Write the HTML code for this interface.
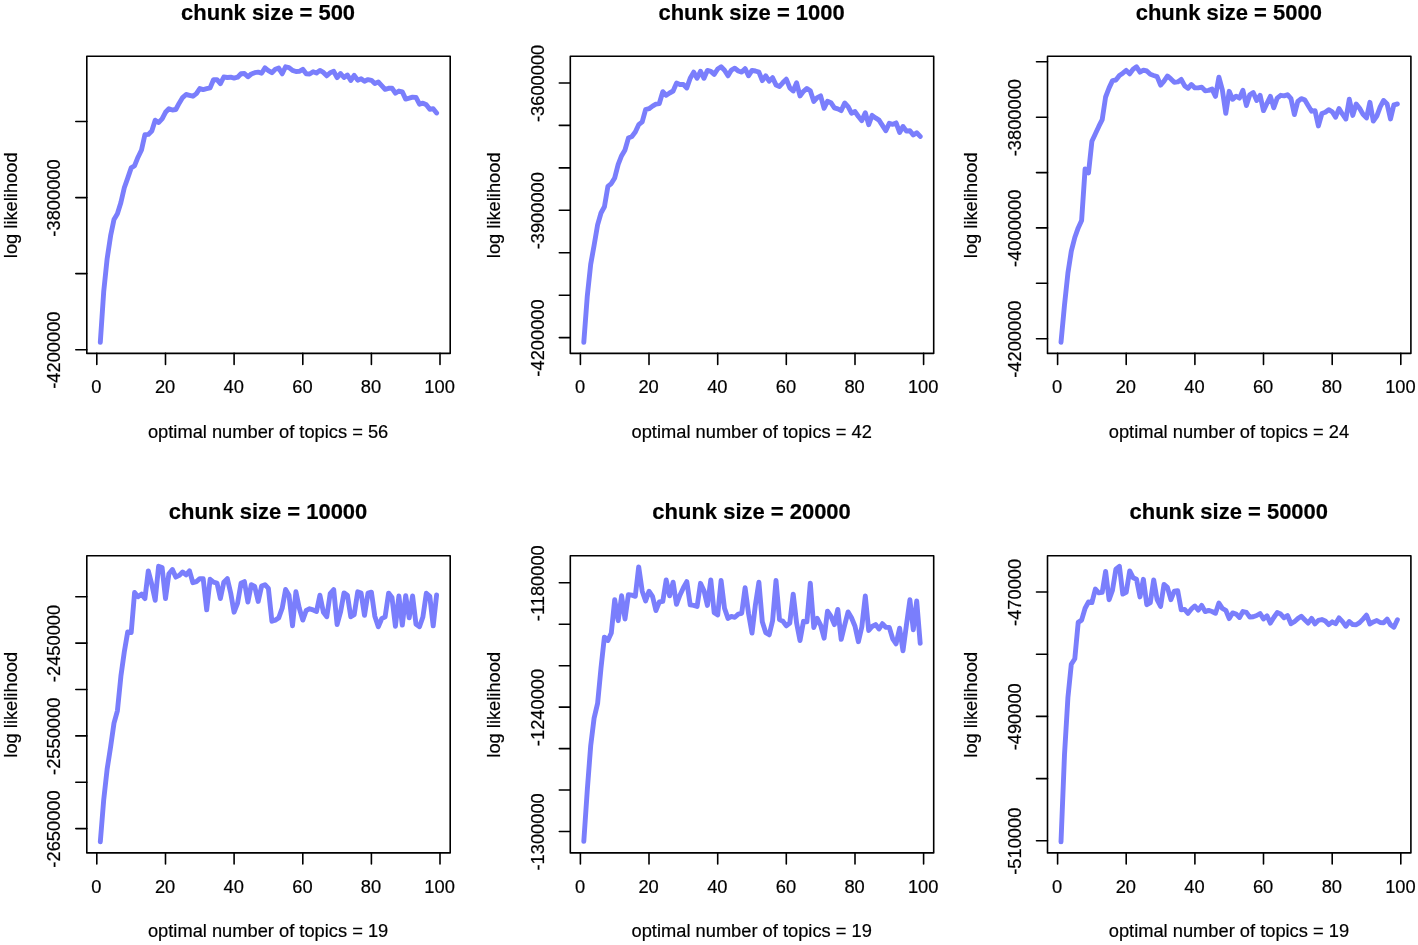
<!DOCTYPE html>
<html lang="en"><head><meta charset="utf-8"><title>log likelihood by chunk size</title>
<style>
html,body{margin:0;padding:0;background:#fff;}
body{width:1418px;height:945px;overflow:hidden;}
svg{display:block;}
text{font-family:"Liberation Sans",Arial,Helvetica,sans-serif;fill:#000;stroke:#000;stroke-width:0.2px;}
.t{font-size:21.97px;font-weight:bold;text-anchor:middle;}
.a{font-size:18.3px;text-anchor:middle;}
.k{stroke:#000;stroke-width:1.6;fill:none;stroke-linejoin:round;stroke-linecap:round;}
.c{stroke:#7a7efc;stroke-width:4.9;fill:none;stroke-linecap:round;stroke-linejoin:round;}
</style></head><body>
<svg width="1418" height="945" viewBox="0 0 1418 945">
<g>
<text class="t" x="268.1" y="19.8">chunk size = 500</text>
<rect class="k" x="86.8" y="56.2" width="363.4" height="297.2"/>
<path class="k" d="M96.8 353.4v11.0M165.5 353.4v11.0M234.1 353.4v11.0M302.8 353.4v11.0M371.4 353.4v11.0M440.0 353.4v11.0M86.8 121.5h-11.0M86.8 197.6h-11.0M86.8 273.6h-11.0M86.8 349.7h-11.0"/>
<text class="a" x="96.4" y="393.1">0</text>
<text class="a" x="165.1" y="393.1">20</text>
<text class="a" x="233.7" y="393.1">40</text>
<text class="a" x="302.4" y="393.1">60</text>
<text class="a" x="371.0" y="393.1">80</text>
<text class="a" x="439.6" y="393.1">100</text>
<text class="a" transform="translate(60.4 198.0) rotate(-90)">-3800000</text>
<text class="a" transform="translate(60.4 350.1) rotate(-90)">-4200000</text>
<text class="a" x="268.1" y="437.8">optimal number of topics = 56</text>
<text class="a" transform="translate(16.5 205.3) rotate(-90)">log likelihood</text>
<polyline class="c" points="100.3,342.3 103.7,291.8 107.1,259.0 110.6,235.8 114.0,219.5 117.4,213.8 120.9,202.5 124.3,187.8 127.7,178.1 131.2,167.9 134.6,165.7 138.0,157.2 141.5,150.0 144.9,134.7 148.3,134.4 151.8,131.0 155.2,120.2 158.6,122.5 162.1,118.9 165.5,112.3 168.9,108.7 172.4,110.0 175.8,109.5 179.2,103.2 182.6,97.6 186.1,94.5 189.5,95.3 192.9,96.2 196.4,93.6 199.8,88.5 203.2,89.6 206.7,88.7 210.1,87.9 213.5,79.7 217.0,79.7 220.4,83.7 223.8,77.0 227.3,77.5 230.7,77.2 234.1,78.1 237.6,77.2 241.0,73.7 244.4,73.5 247.9,76.8 251.3,74.0 254.7,72.7 258.2,72.1 261.6,73.2 265.0,67.9 268.4,70.6 271.9,72.7 275.3,69.3 278.7,68.1 282.2,73.8 285.6,66.8 289.0,67.6 292.5,70.4 295.9,71.5 299.3,71.3 302.8,69.3 306.2,73.8 309.6,74.0 313.1,71.7 316.5,73.0 319.9,70.4 323.4,72.4 326.8,75.8 330.2,72.7 333.7,71.3 337.1,77.7 340.5,73.5 344.0,77.5 347.4,75.0 350.8,80.4 354.2,75.3 357.7,80.2 361.1,78.8 364.5,81.2 368.0,79.6 371.4,80.3 374.8,83.5 378.3,82.0 381.7,85.6 385.1,89.4 388.6,88.3 392.0,88.1 395.4,93.2 398.9,91.0 402.3,91.9 405.7,99.1 409.2,98.2 412.6,97.2 416.0,97.4 419.5,104.2 422.9,103.1 426.3,104.8 429.8,109.2 433.2,108.8 436.6,113.0"/>
</g>
<g>
<text class="t" x="751.6" y="19.8">chunk size = 1000</text>
<rect class="k" x="570.3" y="56.2" width="363.4" height="297.2"/>
<path class="k" d="M580.4 353.4v11.0M649.0 353.4v11.0M717.7 353.4v11.0M786.3 353.4v11.0M855.0 353.4v11.0M923.6 353.4v11.0M570.3 83.0h-11.0M570.3 125.4h-11.0M570.3 167.9h-11.0M570.3 210.3h-11.0M570.3 252.7h-11.0M570.3 295.2h-11.0M570.3 337.6h-11.0"/>
<text class="a" x="580.0" y="393.1">0</text>
<text class="a" x="648.6" y="393.1">20</text>
<text class="a" x="717.3" y="393.1">40</text>
<text class="a" x="785.9" y="393.1">60</text>
<text class="a" x="854.6" y="393.1">80</text>
<text class="a" x="923.2" y="393.1">100</text>
<text class="a" transform="translate(543.9 83.4) rotate(-90)">-3600000</text>
<text class="a" transform="translate(543.9 210.7) rotate(-90)">-3900000</text>
<text class="a" transform="translate(543.9 338.0) rotate(-90)">-4200000</text>
<text class="a" x="751.7" y="437.8">optimal number of topics = 42</text>
<text class="a" transform="translate(500.1 205.3) rotate(-90)">log likelihood</text>
<polyline class="c" points="583.8,342.3 587.3,295.9 590.7,264.2 594.1,245.4 597.6,224.9 601.0,213.0 604.4,206.8 607.9,186.4 611.3,183.6 614.7,177.9 618.2,164.3 621.6,155.7 625.0,149.9 628.4,138.1 631.9,136.6 635.3,132.1 638.7,124.7 642.2,121.9 645.6,109.7 649.0,108.7 652.5,106.1 655.9,104.1 659.3,103.5 662.8,91.7 666.2,95.3 669.6,93.0 673.1,91.0 676.5,83.1 679.9,84.5 683.4,84.5 686.8,87.9 690.2,78.3 693.7,72.1 697.1,78.3 700.5,71.3 704.0,78.3 707.4,70.4 710.8,71.3 714.2,74.3 717.7,69.0 721.1,66.8 724.5,70.3 728.0,75.8 731.4,70.1 734.8,68.2 738.3,71.0 741.7,72.1 745.1,68.7 748.6,75.8 752.0,70.4 755.4,71.0 758.9,72.1 762.3,80.6 765.7,75.8 769.2,81.1 772.6,77.7 776.0,84.9 779.5,86.5 782.9,82.6 786.3,79.2 789.8,87.9 793.2,91.0 796.6,82.8 800.0,95.9 803.5,91.3 806.9,88.5 810.3,90.8 813.8,101.5 817.2,97.6 820.6,95.9 824.1,108.3 827.5,101.2 830.9,102.7 834.4,107.8 837.8,108.9 841.2,110.6 844.7,103.0 848.1,106.6 851.5,113.2 855.0,111.6 858.4,116.5 861.8,120.6 865.3,112.7 868.7,124.7 872.1,115.4 875.6,117.9 879.0,120.1 882.4,125.4 885.8,130.7 889.3,123.3 892.7,124.3 896.1,122.9 899.6,132.5 903.0,126.5 906.4,131.1 909.9,130.7 913.3,135.0 916.7,132.8 920.2,136.4"/>
</g>
<g>
<text class="t" x="1228.8" y="19.8">chunk size = 5000</text>
<rect class="k" x="1047.5" y="56.2" width="363.4" height="297.2"/>
<path class="k" d="M1057.6 353.4v11.0M1126.2 353.4v11.0M1194.9 353.4v11.0M1263.5 353.4v11.0M1332.2 353.4v11.0M1400.8 353.4v11.0M1047.5 61.8h-11.0M1047.5 117.2h-11.0M1047.5 172.6h-11.0M1047.5 227.9h-11.0M1047.5 283.3h-11.0M1047.5 338.7h-11.0"/>
<text class="a" x="1057.2" y="393.1">0</text>
<text class="a" x="1125.8" y="393.1">20</text>
<text class="a" x="1194.5" y="393.1">40</text>
<text class="a" x="1263.1" y="393.1">60</text>
<text class="a" x="1331.8" y="393.1">80</text>
<text class="a" x="1400.4" y="393.1">100</text>
<text class="a" transform="translate(1021.1 117.6) rotate(-90)">-3800000</text>
<text class="a" transform="translate(1021.1 228.3) rotate(-90)">-4000000</text>
<text class="a" transform="translate(1021.1 339.1) rotate(-90)">-4200000</text>
<text class="a" x="1228.9" y="437.8">optimal number of topics = 24</text>
<text class="a" transform="translate(977.3 205.3) rotate(-90)">log likelihood</text>
<polyline class="c" points="1061.0,342.3 1064.5,305.0 1067.9,273.2 1071.3,251.2 1074.8,237.5 1078.2,227.9 1081.6,220.5 1085.1,169.0 1088.5,172.9 1091.9,141.2 1095.4,133.8 1098.8,126.4 1102.2,119.6 1105.6,97.0 1109.1,87.9 1112.5,80.6 1115.9,80.0 1119.4,75.5 1122.8,73.2 1126.2,70.4 1129.7,73.8 1133.1,69.3 1136.5,66.8 1140.0,72.1 1143.4,70.2 1146.8,71.0 1150.3,74.3 1153.7,75.5 1157.1,76.6 1160.6,85.1 1164.0,81.1 1167.4,76.0 1170.9,78.9 1174.3,82.3 1177.7,81.9 1181.2,79.4 1184.6,85.7 1188.0,88.3 1191.4,84.5 1194.9,87.9 1198.3,87.9 1201.7,87.1 1205.2,90.7 1208.6,90.4 1212.0,89.1 1215.5,96.4 1218.9,77.2 1222.3,89.6 1225.8,113.4 1229.2,91.3 1232.6,99.3 1236.1,96.2 1239.5,98.1 1242.9,90.2 1246.4,105.5 1249.8,94.7 1253.2,92.5 1256.7,100.4 1260.1,95.3 1263.5,110.6 1267.0,103.2 1270.4,96.4 1273.8,107.8 1277.2,98.1 1280.7,95.3 1284.1,95.9 1287.5,94.7 1291.0,98.7 1294.4,114.6 1297.8,101.5 1301.3,98.7 1304.7,99.8 1308.1,105.5 1311.6,111.2 1315.0,110.6 1318.4,125.9 1321.9,113.5 1325.3,112.3 1328.7,109.7 1332.2,111.8 1335.6,117.2 1339.0,108.6 1342.5,114.2 1345.9,119.0 1349.3,99.2 1352.8,115.4 1356.2,104.0 1359.6,108.3 1363.0,114.3 1366.5,117.9 1369.9,102.3 1373.3,121.1 1376.8,116.1 1380.2,106.9 1383.6,100.5 1387.1,104.0 1390.5,118.9 1393.9,104.8 1397.4,104.0"/>
</g>
<g>
<text class="t" x="268.1" y="519.3">chunk size = 10000</text>
<rect class="k" x="86.8" y="555.7" width="363.4" height="297.2"/>
<path class="k" d="M96.8 852.9v11.0M165.5 852.9v11.0M234.1 852.9v11.0M302.8 852.9v11.0M371.4 852.9v11.0M440.0 852.9v11.0M86.8 596.8h-11.0M86.8 643.1h-11.0M86.8 689.5h-11.0M86.8 735.9h-11.0M86.8 782.2h-11.0M86.8 828.6h-11.0"/>
<text class="a" x="96.4" y="892.7">0</text>
<text class="a" x="165.1" y="892.7">20</text>
<text class="a" x="233.7" y="892.7">40</text>
<text class="a" x="302.4" y="892.7">60</text>
<text class="a" x="371.0" y="892.7">80</text>
<text class="a" x="439.6" y="892.7">100</text>
<text class="a" transform="translate(60.4 643.5) rotate(-90)">-2450000</text>
<text class="a" transform="translate(60.4 736.3) rotate(-90)">-2550000</text>
<text class="a" transform="translate(60.4 829.0) rotate(-90)">-2650000</text>
<text class="a" x="268.1" y="937.3">optimal number of topics = 19</text>
<text class="a" transform="translate(16.5 704.8) rotate(-90)">log likelihood</text>
<polyline class="c" points="100.3,841.9 103.7,800.0 107.1,769.4 110.6,746.8 114.0,723.2 117.4,710.8 120.9,676.2 124.3,651.9 127.7,632.0 131.2,632.6 134.6,592.4 138.0,596.7 141.5,594.1 144.9,598.6 148.3,570.9 151.8,584.4 155.2,600.3 158.6,566.3 162.1,567.5 165.5,598.6 168.9,573.7 172.4,569.5 175.8,577.1 179.2,575.4 182.6,572.0 186.1,574.8 189.5,570.9 192.9,582.7 196.4,581.6 199.8,578.6 203.2,578.8 206.7,609.9 210.1,579.3 213.5,582.2 217.0,583.1 220.4,598.6 223.8,582.2 227.3,578.6 230.7,593.0 234.1,612.2 237.6,603.2 241.0,583.3 244.4,581.6 247.9,602.0 251.3,584.7 254.7,586.5 258.2,601.4 261.6,586.1 265.0,584.7 268.4,588.4 271.9,621.3 275.3,620.1 278.7,617.9 282.2,608.2 285.6,589.5 289.0,595.2 292.5,625.8 295.9,591.8 299.3,608.2 302.8,620.1 306.2,610.5 309.6,608.8 313.1,609.9 316.5,611.4 319.9,595.2 323.4,612.2 326.8,616.7 330.2,593.5 333.7,589.5 337.1,624.6 340.5,612.2 344.0,592.9 347.4,595.2 350.8,616.8 354.2,614.6 357.7,591.8 361.1,593.1 364.5,615.4 368.0,593.1 371.4,592.2 374.8,616.2 378.3,626.8 381.7,618.7 385.1,616.8 388.6,593.1 392.0,597.6 395.4,626.3 398.9,596.0 402.3,625.1 405.7,595.6 409.2,617.8 412.6,596.0 416.0,624.3 419.5,626.7 422.9,617.0 426.3,593.3 429.8,596.4 433.2,625.9 436.6,594.9"/>
</g>
<g>
<text class="t" x="751.6" y="519.3">chunk size = 20000</text>
<rect class="k" x="570.3" y="555.7" width="363.4" height="297.2"/>
<path class="k" d="M580.4 852.9v11.0M649.0 852.9v11.0M717.7 852.9v11.0M786.3 852.9v11.0M855.0 852.9v11.0M923.6 852.9v11.0M570.3 582.8h-11.0M570.3 624.2h-11.0M570.3 665.7h-11.0M570.3 707.1h-11.0M570.3 748.6h-11.0M570.3 790.0h-11.0M570.3 831.5h-11.0"/>
<text class="a" x="580.0" y="892.7">0</text>
<text class="a" x="648.6" y="892.7">20</text>
<text class="a" x="717.3" y="892.7">40</text>
<text class="a" x="785.9" y="892.7">60</text>
<text class="a" x="854.6" y="892.7">80</text>
<text class="a" x="923.2" y="892.7">100</text>
<text class="a" transform="translate(543.9 583.2) rotate(-90)">-1180000</text>
<text class="a" transform="translate(543.9 707.5) rotate(-90)">-1240000</text>
<text class="a" transform="translate(543.9 831.9) rotate(-90)">-1300000</text>
<text class="a" x="751.7" y="937.3">optimal number of topics = 19</text>
<text class="a" transform="translate(500.1 704.8) rotate(-90)">log likelihood</text>
<polyline class="c" points="583.8,841.4 587.3,789.8 590.7,745.7 594.1,718.1 597.6,703.4 601.0,668.0 604.4,637.1 607.9,640.5 611.3,633.1 614.7,599.7 618.2,620.7 621.6,595.8 625.0,619.0 628.4,594.6 631.9,595.2 635.3,596.3 638.7,566.9 642.2,591.2 645.6,600.9 649.0,591.2 652.5,596.3 655.9,610.5 659.3,602.0 662.8,601.4 666.2,579.9 669.6,595.8 673.1,582.2 676.5,604.3 679.9,595.2 683.4,587.8 686.8,581.6 690.2,604.8 693.7,605.4 697.1,606.5 700.5,583.3 704.0,590.7 707.4,605.4 710.8,579.9 714.2,612.8 717.7,615.0 721.1,580.5 724.5,608.2 728.0,618.4 731.4,616.4 734.8,617.3 738.3,614.1 741.7,613.3 745.1,587.8 748.6,613.9 752.0,633.1 755.4,604.8 758.9,582.2 762.3,621.8 765.7,632.6 769.2,634.8 772.6,620.7 776.0,580.5 779.5,619.6 782.9,621.3 786.3,625.8 789.8,623.0 793.2,594.1 796.6,623.0 800.0,640.5 803.5,621.3 806.9,621.8 810.3,583.3 813.8,627.5 817.2,618.4 820.6,625.2 824.1,638.2 827.5,611.1 830.9,616.2 834.4,624.6 837.8,609.4 841.2,639.4 844.7,625.0 848.1,611.9 851.5,617.8 855.0,626.2 858.4,641.7 861.8,627.0 865.3,595.9 868.7,630.5 872.1,626.5 875.6,624.6 879.0,629.0 882.4,623.7 885.8,627.2 889.3,627.4 892.7,638.8 896.1,643.8 899.6,628.2 903.0,650.8 906.4,625.2 909.9,599.8 913.3,629.8 916.7,601.0 920.2,643.4"/>
</g>
<g>
<text class="t" x="1228.8" y="519.3">chunk size = 50000</text>
<rect class="k" x="1047.5" y="555.7" width="363.4" height="297.2"/>
<path class="k" d="M1057.6 852.9v11.0M1126.2 852.9v11.0M1194.9 852.9v11.0M1263.5 852.9v11.0M1332.2 852.9v11.0M1400.8 852.9v11.0M1047.5 592.0h-11.0M1047.5 654.2h-11.0M1047.5 716.4h-11.0M1047.5 778.6h-11.0M1047.5 840.8h-11.0"/>
<text class="a" x="1057.2" y="892.7">0</text>
<text class="a" x="1125.8" y="892.7">20</text>
<text class="a" x="1194.5" y="892.7">40</text>
<text class="a" x="1263.1" y="892.7">60</text>
<text class="a" x="1331.8" y="892.7">80</text>
<text class="a" x="1400.4" y="892.7">100</text>
<text class="a" transform="translate(1021.1 592.4) rotate(-90)">-470000</text>
<text class="a" transform="translate(1021.1 716.8) rotate(-90)">-490000</text>
<text class="a" transform="translate(1021.1 841.2) rotate(-90)">-510000</text>
<text class="a" x="1228.9" y="937.3">optimal number of topics = 19</text>
<text class="a" transform="translate(977.3 704.8) rotate(-90)">log likelihood</text>
<polyline class="c" points="1061.0,841.9 1064.5,754.7 1067.9,697.8 1071.3,664.3 1074.8,658.7 1078.2,622.4 1081.6,620.1 1085.1,608.2 1088.5,602.0 1091.9,602.6 1095.4,589.0 1098.8,592.9 1102.2,592.4 1105.6,571.4 1109.1,599.7 1112.5,590.1 1115.9,569.2 1119.4,566.3 1122.8,594.1 1126.2,592.4 1129.7,570.9 1133.1,577.7 1136.5,579.3 1140.0,596.9 1143.4,579.3 1146.8,604.8 1150.3,602.6 1153.7,579.9 1157.1,599.7 1160.6,606.5 1164.0,584.4 1167.4,587.3 1170.9,599.7 1174.3,591.2 1177.7,590.7 1181.2,609.9 1184.6,609.4 1188.0,613.3 1191.4,608.9 1194.9,606.0 1198.3,610.2 1201.7,605.4 1205.2,611.6 1208.6,610.4 1212.0,611.5 1215.5,613.3 1218.9,603.1 1222.3,608.4 1225.8,610.3 1229.2,618.6 1232.6,612.9 1236.1,614.1 1239.5,617.5 1242.9,611.5 1246.4,612.4 1249.8,617.1 1253.2,616.7 1256.7,615.5 1260.1,613.5 1263.5,618.9 1267.0,615.8 1270.4,623.1 1273.8,617.5 1277.2,612.6 1280.7,614.1 1284.1,617.8 1287.5,615.5 1291.0,623.7 1294.4,621.7 1297.8,618.6 1301.3,616.3 1304.7,619.7 1308.1,623.1 1311.6,618.4 1315.0,623.9 1318.4,620.4 1321.9,619.5 1325.3,621.0 1328.7,624.6 1332.2,621.8 1335.6,623.7 1339.0,617.9 1342.5,621.6 1345.9,626.2 1349.3,621.5 1352.8,624.6 1356.2,624.8 1359.6,622.6 1363.0,619.1 1366.5,615.2 1369.9,624.0 1373.3,621.9 1376.8,620.5 1380.2,622.5 1383.6,622.8 1387.1,619.1 1390.5,624.8 1393.9,627.2 1397.4,619.8"/>
</g>
</svg>
</body></html>
